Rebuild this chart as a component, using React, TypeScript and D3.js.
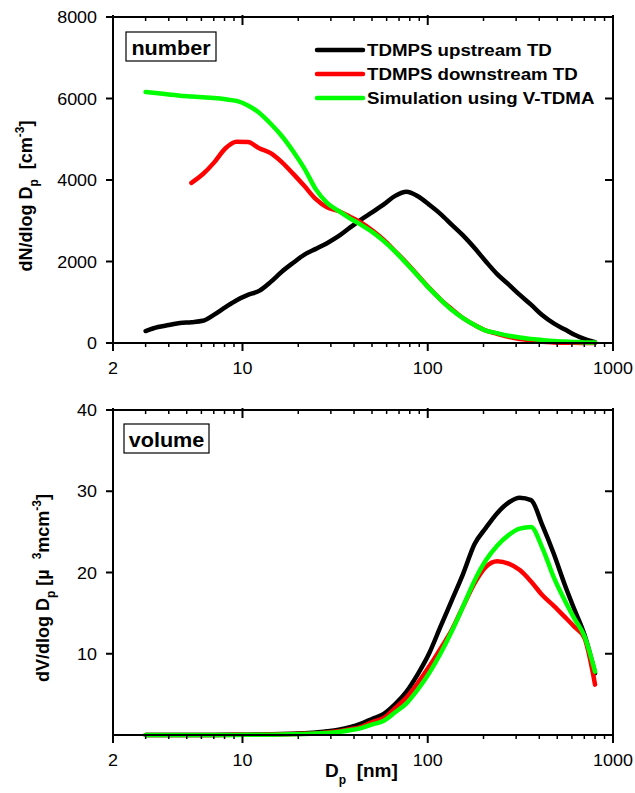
import React from "react";
import * as d3 from "d3";

const DIAM = [3, 3.5, 4, 4.6, 5.3, 6.1, 7, 8.1, 9.3, 10.7, 12.3, 14.2, 16.3, 18.8, 21.6, 24.9, 28.6, 33, 38, 43.7, 50.3, 57.9, 66.7, 76.8, 88.4, 102, 117, 135, 155, 179, 206, 237, 273, 314, 361, 416, 479, 551, 620, 700, 800];

const NUM_UP = [294, 393, 440, 490, 510, 545, 690, 880, 1050, 1180, 1280, 1500, 1750, 1970, 2170, 2310, 2450, 2620, 2830, 3030, 3210, 3400, 3610, 3710, 3600, 3390, 3170, 2900, 2640, 2330, 2000, 1690, 1440, 1180, 940, 680, 480, 330, 200, 100, 20];
const NUM_DOWN = [null, null, null, null, 3930, 4140, 4420, 4780, 4940, 4930, 4780, 4660, 4440, 4150, 3850, 3530, 3330, 3240, 3100, 2950, 2760, 2530, 2250, 1970, 1660, 1350, 1073, 830, 614, 440, 304, 228, 152, 98, 70, 28, 15, 8, 4, 2, 0];
const NUM_SIM = [6160, 6130, 6100, 6070, 6050, 6030, 6010, 5980, 5940, 5830, 5650, 5380, 5080, 4700, 4280, 3770, 3440, 3240, 3060, 2900, 2720, 2500, 2240, 1950, 1650, 1340, 1070, 810, 610, 440, 306, 242, 177, 133, 101, 72, 48, 35, 25, 15, 10];

const VOL_UP = [0, 0, 0, 0, 0, 0.01, 0.01, 0.02, 0.03, 0.04, 0.06, 0.08, 0.11, 0.16, 0.23, 0.3, 0.45, 0.65, 0.95, 1.4, 2.0, 2.6, 3.8, 5.35, 7.5, 10.1, 13.3, 16.6, 19.8, 23.5, 25.5, 27.3, 28.6, 29.2, 28.9, 25.8, 22.3, 18.4, 15.4, 12.4, 7.6];
const VOL_DOWN = [0, 0, 0, 0, 0, 0, 0.01, 0.01, 0.02, 0.03, 0.04, 0.06, 0.08, 0.11, 0.15, 0.2, 0.3, 0.45, 0.7, 1.0, 1.6, 2.1, 3.3, 4.6, 6.4, 8.45, 10.6, 12.95, 15.8, 18.7, 20.7, 21.4, 21.1, 20.3, 18.9, 17.2, 15.9, 14.5, 13.3, 12.0, 6.2];
const VOL_SIM = [0, 0, 0, 0, 0, 0, 0, 0.01, 0.01, 0.02, 0.03, 0.04, 0.06, 0.09, 0.12, 0.17, 0.25, 0.38, 0.58, 0.85, 1.3, 1.75, 2.8, 3.9, 5.6, 7.65, 10.0, 12.8, 15.8, 19.0, 21.5, 23.3, 24.6, 25.4, 25.6, 23.0, 19.4, 16.5, 14.3, 12.2, 7.8];

const SERIES_NAMES = ["TDMPS upstream TD", "TDMPS downstream TD", "Simulation using V-TDMA"];
const SERIES_COLORS = ["#000000", "#ff0000", "#00ff00"];

const X_TICK_LABELS = [2, 10, 100, 1000];
const X_MINOR = [3, 4, 5, 6, 7, 8, 9, 20, 30, 40, 50, 60, 70, 80, 90, 200, 300, 400, 500, 600, 700, 800, 900];
const NUM_TICKS = [0, 2000, 4000, 6000, 8000];
const VOL_TICKS = [10, 20, 30, 40];

const FONT = "'Liberation Sans', Arial, Helvetica, sans-serif";

const X0 = 113, X1 = 613;
const x = d3.scaleLog().domain([2, 1000]).range([X0, X1]);

function Txt({ x, y, size, weight = "normal", anchor = "start", sx = 1, rotate = 0, children }: any) {
  return (
    <text
      transform={`translate(${x},${y}) scale(${sx},1)${rotate ? ` rotate(${rotate})` : ""}`}
      fontSize={size}
      fontWeight={weight}
      textAnchor={anchor}
      fontFamily={FONT}
      fill="#000"
    >
      {children}
    </text>
  );
}

function Panel({ y, yTicks, series, top, bottom, label, showLegend }: any) {
  const line = d3
    .line<any>()
    .defined((d) => d[1] != null)
    .x((d) => x(d[0]))
    .y((d) => y(d[1]))
    .curve(d3.curveMonotoneX);
  const tickLbl = 16;
  return (
    <g>
      {series.map((vals: any[], i: number) => (
        <path
          key={i}
          d={line(DIAM.map((dd, k) => [dd, vals[k]])) || ""}
          fill="none"
          stroke={SERIES_COLORS[i]}
          strokeWidth={4.5}
          strokeLinejoin="round"
          strokeLinecap="round"
        />
      ))}
      {/* frame */}
      <rect x={X0} y={top} width={X1 - X0} height={bottom - top} fill="none" stroke="#000" strokeWidth={2} />
      {/* x ticks */}
      {X_MINOR.map((v) => (
        <g key={"m" + v}>
          <line x1={x(v)} x2={x(v)} y1={bottom} y2={bottom + 4} stroke="#000" strokeWidth={1.5} />
          <line x1={x(v)} x2={x(v)} y1={top} y2={top + 4} stroke="#000" strokeWidth={1.5} />
        </g>
      ))}
      {X_TICK_LABELS.map((v) => (
        <g key={"M" + v}>
          <line x1={x(v)} x2={x(v)} y1={bottom} y2={bottom + 8} stroke="#000" strokeWidth={2} />
          <line x1={x(v)} x2={x(v)} y1={top - 2} y2={top + 8} stroke="#000" strokeWidth={2} />
          <Txt x={x(v)} y={bottom + 31} size={tickLbl} anchor="middle" sx={1.12}>
            {v}
          </Txt>
        </g>
      ))}
      {yTicks.map((v: number) => (
        <g key={"y" + v}>
          <line x1={X0 - 7} x2={X0} y1={y(v)} y2={y(v)} stroke="#000" strokeWidth={2} />
          <line x1={X1 - 8} x2={X1} y1={y(v)} y2={y(v)} stroke="#000" strokeWidth={2} />
          <Txt x={97} y={y(v) + 6} size={tickLbl} anchor="end" sx={1.12}>
            {v}
          </Txt>
        </g>
      ))}
      {/* label box */}
      <rect x={label.x} y={label.y} width={label.w} height={29} fill="#fff" stroke="#000" strokeWidth={1.2} />
      <Txt x={label.x + label.w / 2} y={label.y + 23} size={20} weight="bold" anchor="middle" sx={1.08}>
        {label.text}
      </Txt>
      {showLegend &&
        SERIES_NAMES.map((name, i) => (
          <g key={name}>
            <line x1={317} x2={363} y1={50 + i * 24} y2={50 + i * 24} stroke={SERIES_COLORS[i]} strokeWidth={4.5} strokeLinecap="round" />
            <Txt x={367} y={56 + i * 24} size={17} weight="bold" sx={1.1}>
              {name}
            </Txt>
          </g>
        ))}
    </g>
  );
}

export default function App() {
  const yNum = d3.scaleLinear().domain([0, 8000]).range([343, 17]);
  const yVol = d3.scaleLinear().domain([0, 40]).range([735, 410]);
  return (
    <svg width={635} height={793} style={{ position: "absolute", left: 0, top: 0, background: "#fff" }}>
      <rect x={0} y={0} width={635} height={793} fill="#fff" />
      <Panel
        y={yNum}
        yTicks={NUM_TICKS}
        series={[NUM_UP, NUM_DOWN, NUM_SIM]}
        top={17}
        bottom={343}
        label={{ x: 126, y: 32, w: 90, text: "number" }}
        showLegend
      />
      <Panel
        y={yVol}
        yTicks={VOL_TICKS}
        series={[VOL_UP, VOL_DOWN, VOL_SIM]}
        top={410}
        bottom={735}
        label={{ x: 124, y: 424, w: 85, text: "volume" }}
        showLegend={false}
      />
      {/* y titles */}
      <Txt x={32} y={196} size={18} weight="bold" anchor="middle" rotate={-90}>
        <tspan>dN/dlog D</tspan>
        <tspan dy={6} fontSize={12}>p</tspan>
        <tspan dy={-6}>{"\u00a0\u00a0[cm"}</tspan>
        <tspan dy={-8} fontSize={12}>-3</tspan>
        <tspan dy={8}>]</tspan>
      </Txt>
      <Txt x={49} y={588} size={18} weight="bold" anchor="middle" rotate={-90}>
        <tspan>dV/dlog D</tspan>
        <tspan dy={6} fontSize={12}>p</tspan>
        <tspan dy={-6}>{"\u00a0[µ\u00a0\u00a0"}</tspan>
        <tspan dy={-8} fontSize={12}>3</tspan>
        <tspan dy={8}>mcm</tspan>
        <tspan dy={-8} fontSize={12}>-3</tspan>
        <tspan dy={8}>]</tspan>
      </Txt>
      {/* x title */}
      <Txt x={325} y={777} size={19} weight="bold">
        <tspan>D</tspan>
        <tspan dy={7} fontSize={12}>p</tspan>
        <tspan dy={-7}>{"\u00a0\u00a0[nm]"}</tspan>
      </Txt>
    </svg>
  );
}
